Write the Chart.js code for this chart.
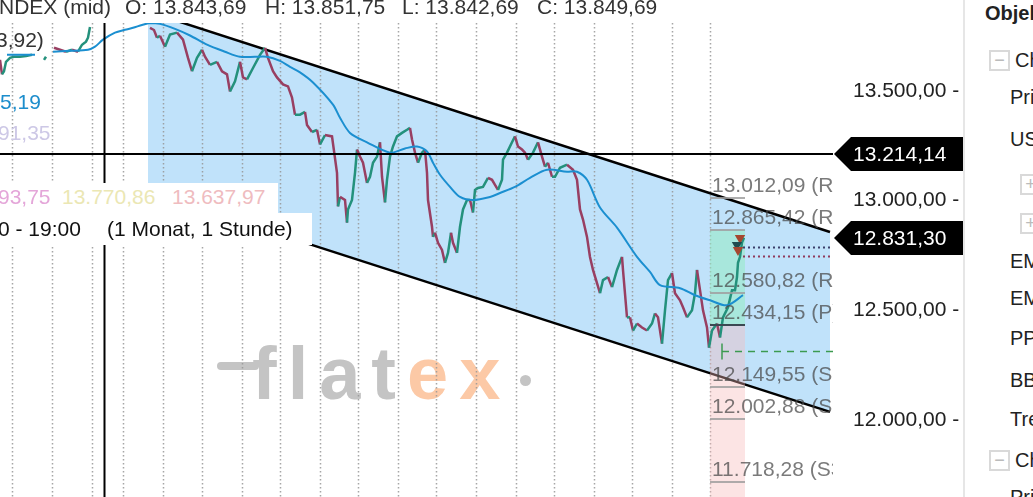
<!DOCTYPE html>
<html>
<head>
<meta charset="utf-8">
<script src="https://cdn.jsdelivr.net/npm/chart.js@4.4.1/dist/chart.umd.min.js"></script>
<style>
  html, body { margin: 0; padding: 0; background: #fff; overflow: hidden; }
  body { width: 1033px; height: 497px; position: relative; font-family: Arial, "Liberation Sans", sans-serif; }
  #chart { position: absolute; left: 0; top: 0; z-index: 1; }
  .t { position: absolute; font-size: 21px; line-height: 21px; white-space: pre; color: #333; z-index: 3; }
  .box { position: absolute; left: 0; background: #fff; z-index: 2; }
  .wm { position: absolute; left: 252px; top: 337px; font: bold 74px Arial, "Liberation Sans", sans-serif; line-height: 74px; letter-spacing: 11px; color: #c4c4c4; white-space: pre; z-index: 0; }
  .wm span { color: #fcc9a6; }
  .wmbar { position: absolute; left: 217px; top: 362px; width: 42px; height: 8px; border-radius: 4px; background: #c4c4c4; z-index: 0; }
  .wmdot { position: absolute; left: 520px; top: 375px; width: 11px; height: 11px; border-radius: 6px; background: #c4c4c4; z-index: 0; }
  .side { position: absolute; left: 963px; top: 0; width: 68px; height: 497px; border-left: 2px solid #e6e6e6; background: #fff; z-index: 4; overflow: hidden; }
  .side div { position: absolute; font-size: 20px; line-height: 20px; color: #222; white-space: pre; }
  .side .sq { width: 17px; height: 17px; border: 2px solid #d9d9d9; color: #bbb; font-size: 18px; line-height: 16px; text-align: center; }
</style>
</head>
<body>
<div class="wmbar"></div>
<div class="wm">fl<span></span>at<span>ex</span></div>
<div class="wmdot"></div>

<canvas id="chart" width="963" height="497"></canvas>

<div class="t" style="left:-1px;top:-4px">NDEX (mid)</div>
<div class="t" style="left:125px;top:-4px">O: 13.843,69</div>
<div class="t" style="left:265px;top:-4px">H: 13.851,75</div>
<div class="t" style="left:402px;top:-4px">L: 13.842,69</div>
<div class="t" style="left:537px;top:-4px">C: 13.849,69</div>

<div class="t" style="left:-4px;top:29px">3,92)</div>
<div class="t" style="left:0px;top:91px;color:#1c8dcc">5,19</div>
<div class="t" style="left:-2px;top:122px;color:#cdc8e6">91,35</div>

<div class="box" style="top:183px;width:278px;height:30px"></div>
<div class="t" style="left:-2px;top:186px;color:#e4a6d9">93,75</div>
<div class="t" style="left:62px;top:186px;color:#ebe7b4">13.770,86</div>
<div class="t" style="left:172px;top:186px;color:#efbcbf">13.637,97</div>

<div class="box" style="top:213px;width:312px;height:32px"></div>
<div class="t" style="left:-2px;top:218px;color:#111">0 - 19:00</div>
<div class="t" style="left:107px;top:218px;color:#111">(1 Monat, 1 Stunde)</div>

<div class="side">
  <div style="left:20px;top:3px;font-weight:bold">Objekte</div>
  <div class="sq" style="left:24px;top:50px">−</div>
  <div style="left:50px;top:50px">Chart</div>
  <div style="left:45px;top:87px">Primär</div>
  <div style="left:45px;top:129px">US</div>
  <div class="sq" style="left:55px;top:174px">+</div>
  <div class="sq" style="left:55px;top:213px">+</div>
  <div style="left:45px;top:251px">EMA</div>
  <div style="left:45px;top:288px">EMA</div>
  <div style="left:45px;top:328px">PP</div>
  <div style="left:45px;top:370px">BB</div>
  <div style="left:45px;top:409px">Trend</div>
  <div class="sq" style="left:24px;top:450px">−</div>
  <div style="left:50px;top:450px">Chart</div>
  <div style="left:45px;top:487px">Primär</div>
</div>

<script>
// hourly bars, x = bar number; null closes are breaks in the data
const priceBar = [
  0, 1, 2, 3, 5, 7, 10, 13, 16, 18, 22, 23, 25, 27, 30, 33, 36, 39, 41, 43, 44, 45, 47,
  75, 77, 78.5, 80, 82.5, 85, 88.5, 91.5, 94, 96, 98.5, 101, 102.5, 105, 108.5, 111, 113.5, 115,
  117.5, 120, 121.5, 123.5, 126.5, 130, 132.5, 134, 136.5, 138.5, 141.5, 144, 146, 147.5, 150,
  152.5, 153.5, 156, 158.5, 160, 162.5, 166, 168.5, 169, 170, 172.5, 173.5, 174, 176, 177.5,
  178.5, 180, 181.5, 183.5, 185, 186.5, 188.5, 190, 191, 192.5, 193.5, 195, 196.5, 198.5, 201,
  203.5, 205, 206, 207.5, 209, 211, 212.5, 213.5, 214, 216, 216.5, 217.5, 219, 221, 222.5, 224,
  225.5, 226.5, 228.5, 230, 231.5, 233.5, 235, 236.5, 237.5, 239, 241.5, 244, 246, 247.5, 249,
  251, 251.5, 253.5, 256, 257.5, 259, 261, 262.5, 264, 266.5, 269, 271, 272.5, 274, 276, 277.5,
  280, 283.5, 286.5, 288.5, 290, 291.5, 293.5, 295, 296.5, 298.5, 300, 301.5, 304, 306, 308.5,
  311, 311.5, 313.5, 315, 316.5, 318.5, 321, 323.5, 326, 327.5, 329, 331, 332.5, 334, 336, 337.5,
  340, 341.5, 343.5, 346, 347.5, 348.5, 350, 351.5, 353.5, 354.5, 356, 358.5, 360, 361.5, 364,
  366, 367.5, 368.5, 369, 370, 371, 372
];
const priceClose = [
  13642, 13576, 13590, 13633, 13651, 13656, 13656, 13660, 13665, null, 13642, 13656, null,
  13697, 13688, 13679, 13688, 13679, 13711, 13725, 13743, 13792, null,
  13788, 13778, 13743, 13752, 13702, 13757, 13766, 13734, 13651, 13590, 13651, 13688, 13656, 13619,
  13633, 13590, 13576, 13498, 13544, 13633, 13562, 13553, 13605, 13665, 13697, 13651, 13590, 13562,
  13530, 13521, 13470, 13392, 13392, 13405, 13345, 13313, 13323, 13256, 13299, 13293, 13127, 12974,
  13017, 13003, 12900, 12960, 13003, 13127, 13233, 13201, 13173, 13081, 13109, 13173, 13201, 13266,
  13109, 12992, 13095, 13201, 13247, 13293, 13309, 13323, 13332, 13279, 13219, 13173, 13219, 13233,
  13127, 13003, 12881, 12835, 12854, 12808, 12775, 12716, 12762, 12854, 12808, 12762, 12881, 12960,
  13003, 13003, 12946, 13049, 13058, 13063, 13104, 13095, 13072, 13049, 13095, 13187, 13219, 13266,
  13293, 13247, 13233, 13219, 13187, 13219, 13266, 13201, 13155, 13173, 13109, 13109, 13150, 13164,
  13141, 13095, 12960, 12914, 12835, 12743, 12684, 12624, 12578, 12638, 12652, 12606, 12684, 12744,
  12684, 12468, 12468, 12408, 12440, 12422, 12408, 12440, 12486, 12468, 12348, 12500, 12638, 12670,
  12578, 12546, 12514, 12468, 12500, 12578, 12684, 12592, 12500, 12422, 12330, 12408, 12440, 12376,
  12468, 12514, 12592, 12592, 12652, 12717, 12744, 12809, 12831
];
const emaBar = [
  3.5, 17.5, 20, 26.5, 35, 44, 47.5, 51.5, 57.5, 62.5, 66.5, 71, 75, 80, 87.5, 95, 103.5, 112.5,
  120, 127.5, 133.5, 140, 145, 150, 156.5, 166.5, 170, 175, 183.5, 195, 202.5, 208.5, 213.5, 216.5,
  220, 225, 230, 236.5, 245, 250, 257.5, 265, 273.5, 283.5, 288.5, 293.5, 300, 308.5, 318.5, 325,
  330, 340, 347.5, 355, 363.5, 371.5
];
const emaValue = [
  13665, 13665, null, 13679, 13683, 13688, 13702, 13734, 13766, 13779, 13788, 13801, 13810, 13806,
  13783, 13753, 13711, 13679, 13656, 13656, 13656, 13637, 13610, 13585, 13539, 13438, 13378, 13309,
  13266, 13219, 13238, 13247, 13224, 13173, 13118, 13063, 13017, 13003, 13017, 13035, 13063, 13104,
  13141, 13132, 13132, 13095, 12969, 12877, 12744, 12675, 12615, 12601, 12569, 12546, 12523, 12569
];

const dayBreaks = [6, 26, 46, 61.5, 81.5, 101, 121, 140, 160, 179, 199, 218, 238, 258, 277, 297, 316, 336, 355];
const yTicks = [12000, 12500, 13000, 13500];

const channelBar = [74, 415];
const channelUpper = [13862, 12857];
const channelLower = [13039, 12037];

const crossBar = 52;
const tagLevels = [13214.14, 12831.30];

const pivotNames = ['R3', 'R2', 'R1', 'P', 'S1', 'S2', 'S3'];
const pivotLevels = [13012.09, 12865.42, 12580.82, 12434.15, 12149.55, 12002.88, 11718.28];
const zoneBars = [355, 372.5];
const entryLevel = 12315;
const entryBar = 361;
const orderLevels = [12789, 12748];
const markerBar = [370, 368.5, 369];
const markerValue = [12830, 12798, 12775];

const UP = '#24917c';
const DOWN = '#983f62';
const FONT = 'Arial, "Liberation Sans", sans-serif';

function fmt(v) {
  const parts = v.toFixed(2).split('.');
  return parts[0].replace(/\B(?=(\d{3})+(?!\d))/g, '.') + ',' + parts[1];
}
const pts = (xs, ys) => xs.map((x, i) => ({ x: x, y: ys[i] }));

const overlay = {
  id: 'overlay',
  beforeDatasetsDraw(chart) {
    // dotted day separators
    const { ctx, chartArea, scales: { x } } = chart;
    ctx.save();
    ctx.strokeStyle = 'rgba(150,150,150,0.85)';
    ctx.lineWidth = 1.5;
    ctx.setLineDash([1.5, 2.5]);
    dayBreaks.forEach(b => {
      const px = Math.round(x.getPixelForValue(b)) + 0.5;
      ctx.beginPath();
      ctx.moveTo(px, chartArea.top);
      ctx.lineTo(px, chartArea.bottom);
      ctx.stroke();
    });
    ctx.restore();
  },
  afterDatasetDraw(chart, args) {
    // target zones sit on the channel fill, under the candles
    if (args.index !== 1) return;
    const { ctx, chartArea, scales: { x, y } } = chart;
    const x0 = x.getPixelForValue(zoneBars[0]);
    const x1 = x.getPixelForValue(zoneBars[1]);
    const top = y.getPixelForValue(pivotLevels[1]);
    const mid = y.getPixelForValue(pivotLevels[3]);
    ctx.save();
    ctx.fillStyle = 'rgba(150,235,195,0.55)';
    ctx.fillRect(x0, top, x1 - x0, mid - top);
    ctx.fillStyle = 'rgba(248,185,185,0.38)';
    ctx.fillRect(x0, mid, x1 - x0, chartArea.bottom - mid);
    ctx.restore();
  },
  afterDatasetsDraw(chart) {
    const { ctx, chartArea, scales: { x, y } } = chart;
    ctx.save();
    ctx.beginPath();
    ctx.rect(chartArea.left, chartArea.top, chartArea.right - chartArea.left, chartArea.bottom - chartArea.top);
    ctx.clip();

    // crosshair
    ctx.strokeStyle = '#000';
    ctx.lineWidth = 2;
    const cx = Math.round(x.getPixelForValue(crossBar)) + 0.5;
    const cy = Math.round(y.getPixelForValue(tagLevels[0]));
    ctx.beginPath();
    ctx.moveTo(cx, chartArea.top);
    ctx.lineTo(cx, chartArea.bottom);
    ctx.moveTo(chartArea.left, cy);
    ctx.lineTo(chartArea.right, cy);
    ctx.stroke();

    // pivot levels
    const x0 = x.getPixelForValue(zoneBars[0]);
    const x1 = x.getPixelForValue(zoneBars[1]);
    ctx.font = '21px ' + FONT;
    ctx.textAlign = 'left';
    ctx.textBaseline = 'alphabetic';
    pivotLevels.forEach((v, i) => {
      const py = Math.round(y.getPixelForValue(v));
      ctx.strokeStyle = pivotNames[i] === 'P' ? '#3b4852' : 'rgba(160,160,160,0.85)';
      ctx.lineWidth = 2;
      ctx.beginPath();
      ctx.moveTo(x0, py);
      ctx.lineTo(x1, py);
      ctx.stroke();
      ctx.fillStyle = 'rgba(70,70,70,0.72)';
      ctx.fillText(fmt(v) + ' (' + pivotNames[i] + ')', x0 + 2, py - 6);
    });

    // entry line
    const ey = Math.round(y.getPixelForValue(entryLevel)) + 0.5;
    const ex = x.getPixelForValue(entryBar);
    ctx.strokeStyle = '#3c9a50';
    ctx.lineWidth = 1.5;
    ctx.setLineDash([7, 6]);
    ctx.beginPath();
    ctx.moveTo(ex, ey);
    ctx.lineTo(chartArea.right, ey);
    ctx.stroke();
    ctx.setLineDash([]);
    ctx.beginPath();
    ctx.moveTo(ex, ey - 8);
    ctx.lineTo(ex, ey + 8);
    ctx.stroke();

    // pending orders
    const ox = x.getPixelForValue(markerBar[0]) + 3;
    ['#3a3f6a', '#8f3a5c'].forEach((c, i) => {
      const oy = Math.round(y.getPixelForValue(orderLevels[i])) + 0.5;
      ctx.strokeStyle = c;
      ctx.lineWidth = 2;
      ctx.setLineDash([2, 3]);
      ctx.beginPath();
      ctx.moveTo(ox, oy);
      ctx.lineTo(chartArea.right, oy);
      ctx.stroke();
    });
    ctx.restore();
  },
  afterDraw(chart) {
    const { ctx, chartArea, scales: { y } } = chart;
    ctx.save();
    ctx.font = '21px ' + FONT;
    ctx.textAlign = 'left';
    ctx.textBaseline = 'middle';
    tagLevels.forEach(v => {
      const py = Math.round(y.getPixelForValue(v));
      const left = chartArea.right + 1;
      ctx.fillStyle = '#000';
      ctx.beginPath();
      ctx.moveTo(left, py);
      ctx.lineTo(left + 17, py - 17);
      ctx.lineTo(chart.width, py - 17);
      ctx.lineTo(chart.width, py + 17);
      ctx.lineTo(left + 17, py + 17);
      ctx.closePath();
      ctx.fill();
      ctx.fillStyle = '#fff';
      ctx.fillText(fmt(v), left + 19, py + 1);
    });
    ctx.restore();
  }
};

new Chart(document.getElementById('chart'), {
  type: 'line',
  data: {
    datasets: [
      {
        label: 'Trend oben',
        data: pts(channelBar, channelUpper),
        borderColor: '#000',
        borderWidth: 2.5,
        pointRadius: 0,
        order: 3
      },
      {
        label: 'Trend unten',
        data: pts(channelBar, channelLower),
        borderColor: '#000',
        borderWidth: 2.5,
        pointRadius: 0,
        fill: '-1',
        backgroundColor: 'rgba(135,200,245,0.52)',
        order: 2
      },
      {
        label: 'Kurs',
        data: pts(priceBar, priceClose),
        borderColor: UP,
        borderWidth: 2.5,
        pointRadius: 0,
        spanGaps: false,
        segment: {
          borderColor: c => (c.p1.parsed.y >= c.p0.parsed.y ? UP : DOWN)
        },
        order: 1
      },
      {
        label: 'EMA',
        data: pts(emaBar, emaValue),
        borderColor: '#1b8fd0',
        borderWidth: 2,
        pointRadius: 0,
        tension: 0.3,
        spanGaps: false,
        order: 0
      },
      {
        label: 'Orders',
        data: pts(markerBar, markerValue),
        showLine: false,
        pointStyle: 'triangle',
        rotation: 180,
        pointRadius: 6,
        pointBackgroundColor: ['#a5462f', '#1f4d4f', '#a5462f'],
        pointBorderWidth: 0,
        order: -1
      }
    ]
  },
  options: {
    responsive: false,
    animation: false,
    devicePixelRatio: 1,
    layout: { autoPadding: false, padding: { top: 23, left: 0, right: 0, bottom: 0 } },
    plugins: {
      legend: { display: false },
      tooltip: { enabled: false },
      filler: { drawTime: 'beforeDatasetsDraw' }
    },
    scales: {
      x: {
        type: 'linear',
        display: false,
        min: 0,
        max: 416.5
      },
      y: {
        position: 'right',
        min: 11649,
        max: 13810,
        afterBuildTicks: axis => { axis.ticks = yTicks.map(v => ({ value: v })); },
        afterFit: axis => { axis.width = 130; axis.paddingTop = 0; axis.paddingBottom = 0; },
        grid: { display: false, drawTicks: false },
        border: { display: false },
        ticks: {
          padding: 20,
          crossAlign: 'near',
          color: '#222',
          font: { family: FONT, size: 21 },
          callback: v => fmt(v) + ' -'
        }
      }
    }
  },
  plugins: [overlay]
});
</script>
</body>
</html>
